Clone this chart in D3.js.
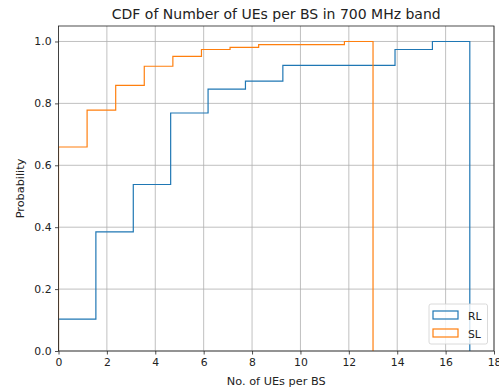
<!DOCTYPE html>
<html>
<head>
<meta charset="utf-8">
<script src="https://cdn.jsdelivr.net/npm/d3@7"></script>
<style>
body { margin: 0; background: #fff; }
text { font-family: "DejaVu Sans", sans-serif; fill: #222; }
</style>
</head>
<body>
<div id="chart"></div>
<script>
var width = 499
var height = 392

var margin = {
    top: 26,
    bottom: 41,
    left: 58.5,
    right: 5
}

// bin edges (11 equal bins from min to max of each series)
var rlEdges = [0, 1.545, 3.091, 4.636, 6.182, 7.727, 9.273, 10.818, 12.364, 13.909, 15.455, 17]
var rlCdf = [0.103, 0.385, 0.538, 0.769, 0.846, 0.872, 0.923, 0.923, 0.923, 0.974, 1.0]

var slEdges = [0, 1.182, 2.364, 3.545, 4.727, 5.909, 7.091, 8.273, 9.455, 10.636, 11.818, 13]
var slCdf = [0.659, 0.778, 0.858, 0.920, 0.952, 0.974, 0.981, 0.990, 0.990, 0.990, 1.0]

var xTicks = [0, 2, 4, 6, 8, 10, 12, 14, 16, 18]
var yTicks = [0, 0.2, 0.4, 0.6, 0.8, 1.0]

var series = [
    {name: "RL", edges: rlEdges, cdf: rlCdf, color: "#1f77b4"},
    {name: "SL", edges: slEdges, cdf: slCdf, color: "#ff7f0e"}
]

var svg = d3.select("#chart").append("svg")
    .attr("width", width)
    .attr("height", height)

var xScale = d3.scaleLinear().domain([0, 18]).range([margin.left, width - margin.right])
var yScale = d3.scaleLinear().domain([0, 1.05]).range([height - margin.bottom, margin.top])

// grid
svg.append("g").selectAll("line")
    .data(xTicks)
    .enter()
    .append("line")
    .attr("x1", d => xScale(d)).attr("x2", d => xScale(d))
    .attr("y1", yScale(0)).attr("y2", yScale(1.05))
    .attr("stroke", "#b0b0b0").attr("stroke-width", 0.8)

svg.append("g").selectAll("line")
    .data(yTicks)
    .enter()
    .append("line")
    .attr("x1", xScale(0)).attr("x2", xScale(18))
    .attr("y1", d => yScale(d)).attr("y2", d => yScale(d))
    .attr("stroke", "#b0b0b0").attr("stroke-width", 0.8)

// step outlines like matplotlib histtype='step'
var clip = svg.append("clipPath").attr("id", "clip")
    .append("rect")
    .attr("x", xScale(0)).attr("y", yScale(1.05))
    .attr("width", xScale(18) - xScale(0))
    .attr("height", yScale(0) - yScale(1.05))

series.forEach(function(s){
    var pts = [[s.edges[0], 0]]
    for(var i = 0; i < s.cdf.length; i++){
        pts.push([s.edges[i], s.cdf[i]])
        pts.push([s.edges[i+1], s.cdf[i]])
    }
    pts.push([s.edges[s.edges.length-1], 0])
    var line = d3.line().x(d => xScale(d[0])).y(d => yScale(d[1]))
    svg.append("path")
        .attr("d", line(pts))
        .attr("fill", "none")
        .attr("stroke", s.color)
        .attr("stroke-width", 1.2)
        .attr("clip-path", "url(#clip)")
})

// axes
var xAxis = svg.append("g")
    .attr("transform", "translate(0," + yScale(0) + ")")
    .call(d3.axisBottom(xScale).tickValues(xTicks).tickSize(3.5).tickPadding(3.5).tickFormat(d3.format("d")))
var yAxis = svg.append("g")
    .attr("transform", "translate(" + xScale(0) + ",0)")
    .call(d3.axisLeft(yScale).tickValues(yTicks).tickSize(3.5).tickPadding(3.5).tickFormat(d3.format(".1f")))

svg.selectAll(".domain").remove()
svg.selectAll(".tick text").style("font-size", "10.8px").style("font-family", "DejaVu Sans").attr("fill", "#222")
svg.selectAll(".tick line").attr("stroke", "#222").attr("stroke-width", 0.8)

// frame
svg.append("rect")
    .attr("x", xScale(0)).attr("y", yScale(1.05))
    .attr("width", xScale(18) - xScale(0))
    .attr("height", yScale(0) - yScale(1.05))
    .attr("fill", "none")
    .attr("stroke", "#222")
    .attr("stroke-width", 0.8)

// labels
svg.append("text")
    .attr("x", (xScale(0) + xScale(18)) / 2)
    .attr("y", 18.5)
    .attr("text-anchor", "middle")
    .style("font-size", "14px")
    .text("CDF of Number of UEs per BS in 700 MHz band")

svg.append("text")
    .attr("x", (xScale(0) + xScale(18)) / 2)
    .attr("y", 385)
    .attr("text-anchor", "middle")
    .style("font-size", "11.3px")
    .text("No. of UEs per BS")

svg.append("text")
    .attr("transform", "translate(24," + (yScale(0) + yScale(1.05)) / 2 + ") rotate(-90)")
    .attr("text-anchor", "middle")
    .style("font-size", "11.3px")
    .text("Probability")

// legend
var legend = svg.append("g").attr("transform", "translate(429,304)")
legend.append("rect")
    .attr("width", 58.5).attr("height", 40)
    .attr("rx", 2)
    .attr("fill", "#fff").attr("fill-opacity", 0.8)
    .attr("stroke", "#d0d0d0").attr("stroke-width", 0.8)

var items = legend.selectAll("g.item")
    .data(series)
    .enter()
    .append("g")
    .attr("transform", function(d, i){ return "translate(4," + (7 + i * 18) + ")" })

items.append("rect")
    .attr("width", 25).attr("height", 8)
    .attr("fill", "none")
    .attr("stroke", d => d.color)
    .attr("stroke-width", 1.2)

items.append("text")
    .attr("x", 35).attr("y", 8.5)
    .style("font-size", "10.8px")
    .text(d => d.name)
</script>
</body>
</html>
